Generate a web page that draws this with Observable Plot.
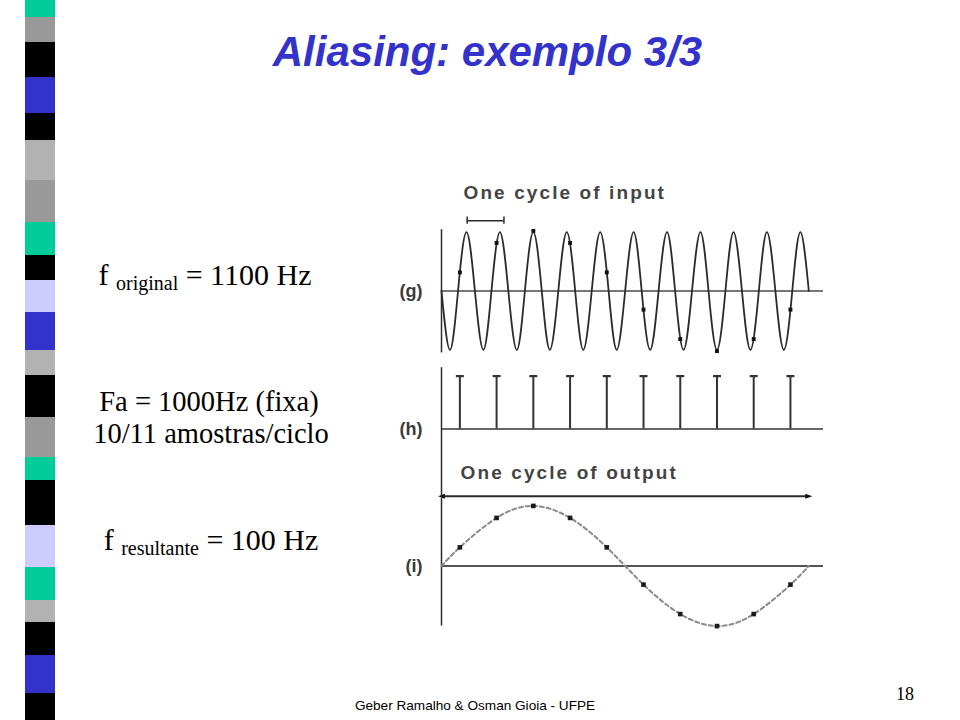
<!DOCTYPE html>
<html>
<head>
<meta charset="utf-8">
<script src="https://cdn.jsdelivr.net/npm/d3@7"></script>
<script src="https://cdn.jsdelivr.net/npm/@observablehq/plot@0.6"></script>
<style>
  html, body { margin: 0; padding: 0; background: #fff; }
  #slide { position: relative; width: 960px; height: 720px; overflow: hidden; background: #fff; }
  .abs { position: absolute; }
  .serif { font-family: "Liberation Serif", "Times New Roman", serif; color: #000; }
  .serif sub { font-size: 20px; vertical-align: -5px; line-height: 0; }
  svg { overflow: visible; }
</style>
</head>
<body>
<div id="slide">
  <div id="stripe" class="abs" style="left:25px; top:0px;"></div>
  <div class="abs" style="left:0; width:975px; top:31px; text-align:center; font: italic bold 42px 'Liberation Sans', Arial, sans-serif; line-height:42px; color:#3333cc;">Aliasing: exemplo 3/3</div>
  <div class="abs serif" style="left:0; width:410px; top:260px; text-align:center; font-size:30px; line-height:30px;">f <sub>original</sub> = 1100 Hz</div>
  <div class="abs serif" style="left:0; width:418px; top:388px; text-align:center; font-size:28.5px; line-height:28.5px;">Fa = 1000Hz (fixa)</div>
  <div class="abs serif" style="left:0; width:422px; top:420px; text-align:center; font-size:28.5px; line-height:28.5px;">10/11 amostras/ciclo</div>
  <div class="abs serif" style="left:0; width:422px; top:525px; text-align:center; font-size:30px; line-height:30px;">f <sub>resultante</sub> = 100 Hz</div>
  <div id="panelG" class="abs" style="left:370px; top:170px;"></div>
  <div id="panelH" class="abs" style="left:370px; top:360px;"></div>
  <div id="panelI" class="abs" style="left:370px; top:497px;"></div>
  <div class="abs" style="left:0; width:950px; top:699px; text-align:center; font: 13.6px 'Liberation Sans', Arial, sans-serif; line-height:14px; color:#000;">Geber Ramalho &amp; Osman Gioia - UFPE</div>
  <div class="abs serif" style="left:896px; top:685px; font-size:18px; line-height:18px;">18</div>
</div>
<script>
// ---- Data ----
// Left decorative stripe: segment boundaries (px of slide height) and colours
const stripeStart = [0, 17, 42, 77, 113, 140, 180, 222, 255, 280, 312, 350, 375, 417, 457, 480, 525, 567, 600, 622, 655, 693];
const stripeColor = ["#00cc99", "#999999", "#000000", "#3333cc", "#000000", "#b2b2b2", "#999999", "#00cc99", "#000000", "#ccccff", "#3333cc",
                     "#b2b2b2", "#000000", "#999999", "#00cc99", "#000000", "#ccccff", "#00cc99", "#b2b2b2", "#000000", "#3333cc", "#000000"];

// (g) input wave, 1100 Hz: zero crossings, troughs and peaks (time in ms, relative amplitude)
const inputTime = [0, 0.23, 0.45, 0.68, 0.91, 1.14, 1.36, 1.59, 1.82, 2.05, 2.27, 2.50, 2.73, 2.95, 3.18, 3.41,
                   3.64, 3.86, 4.09, 4.32, 4.55, 4.77, 5.00, 5.23, 5.45, 5.68, 5.91, 6.14, 6.36, 6.59, 6.82, 7.05,
                   7.27, 7.50, 7.73, 7.95, 8.18, 8.41, 8.64, 8.86, 9.09, 9.32, 9.55, 9.77, 10.0];
const inputValue = [0, -0.98, 0, 0.98, 0, -0.98, 0, 0.98, 0, -0.98, 0, 0.98, 0, -0.98, 0, 0.98,
                    0, -0.98, 0, 0.98, 0, -0.98, 0, 0.98, 0, -0.98, 0, 0.98, 0, -0.98, 0, 0.98,
                    0, -0.98, 0, 0.98, 0, -0.98, 0, 0.98, 0, -0.98, 0, 0.98, 0];

// (h) sampling instants at 1000 Hz (ms) and stem height
const sampleTime = [0.5, 1.5, 2.5, 3.5, 4.5, 5.5, 6.5, 7.5, 8.5, 9.5];
const stemHeight = [0.88, 0.88, 0.88, 0.88, 0.88, 0.88, 0.88, 0.88, 0.88, 0.88];

// (i) sampled values -> resulting 100 Hz wave
const sampleValue = [0.31, 0.80, 1.0, 0.80, 0.31, -0.31, -0.80, -1.0, -0.80, -0.31];
const outputStart = [0, 0];   // [time, value]
const outputEnd = [10, 0];

// annotation texts
const panelLabels = ["(g)", "(h)", "(i)"];
const inputCycle = [0.7, 1.7];      // bracket "One cycle of input" (ms)
const outputCycle = [0, 10];        // arrow "One cycle of output" (ms)
const annotations = ["One cycle of input", "One cycle of output"];

// ---- Tables ----
const inputData = inputTime.map((t, i) => ({t, v: inputValue[i]}));
const samples = sampleTime.map((t, i) => ({t, v: sampleValue[i], h: stemHeight[i]}));
const outputData = [{t: outputStart[0], v: outputStart[1]}, ...samples.map(d => ({t: d.t, v: d.v})), {t: outputEnd[0], v: outputEnd[1]}];
const stripe = stripeStart.map((y, i) => ({y1: y, y2: i + 1 < stripeStart.length ? stripeStart[i + 1] : 720, c: stripeColor[i]}));

// ---- custom symbols (style only) ----
const hbar = {draw(ctx, size) { const r = Math.sqrt(size / Math.PI); ctx.moveTo(-r, 0); ctx.lineTo(r, 0); }};
const triLeft = {draw(ctx, size) { const r = Math.sqrt(size / Math.PI); ctx.moveTo(-r, 0); ctx.lineTo(r, -r * 0.7); ctx.lineTo(r, r * 0.7); ctx.closePath(); }};
const triRight = {draw(ctx, size) { const r = Math.sqrt(size / Math.PI); ctx.moveTo(r, 0); ctx.lineTo(-r, -r * 0.7); ctx.lineTo(-r, r * 0.7); ctx.closePath(); }};

// ---- Stripe ----
document.getElementById("stripe").append(Plot.plot({
  width: 30, height: 720, margin: 0,
  x: {domain: [0, 1], axis: null},
  y: {domain: [0, 720], range: [0, 720], axis: null},
  color: {type: "identity"},
  marks: [Plot.rect(stripe, {x1: () => 0, x2: () => 1, y1: "y1", y2: "y2", fill: "c"})]
}));

const common = {
  width: 470, marginLeft: 71, marginRight: 17,
  x: {domain: [0, 10.4], axis: null},
  y: {domain: [-1.14, 1.14], axis: null},
  style: {overflow: "visible", background: "transparent", fontFamily: "'Liberation Sans', Arial, sans-serif", fontSize: "16px"}
};
const ink = "#2b2b2b";
const labelMark = (s) => Plot.text([s], {text: d => d, frameAnchor: "left", dx: -19, textAnchor: "end", fontWeight: "bold", fontSize: 18, fill: "#3a3a3a"});

// ---- (g) input ----
const g = Plot.plot({
  ...common, height: 190, marginTop: 52, marginBottom: 1,
  marks: [
    Plot.ruleY([0], {stroke: "#777", strokeWidth: 2}),
    Plot.ruleX([0], {y1: -1.03, y2: 1.02, stroke: ink, strokeWidth: 1.5}),
    Plot.line(inputData, {x: "t", y: "v", curve: "natural", stroke: ink, strokeWidth: 1.8}),
    Plot.dot(samples, {x: "t", y: "v", r: 2.2, symbol: "square", fill: "#111"}),
    Plot.ruleY([1.17], {x1: inputCycle[0], x2: inputCycle[1], stroke: ink, strokeWidth: 1.5}),
    Plot.ruleX(inputCycle, {x: d => d, y1: 1.11, y2: 1.23, stroke: ink, strokeWidth: 1.5}),
    Plot.text([annotations[0]], {text: d => d, x: 0.6, y: 1.63, textAnchor: "start", fontSize: 19, fontWeight: "bold", fill: "#444"}),
    labelMark(panelLabels[0])
  ]
});
document.getElementById("panelG").append(g);

// ---- (h) sampling ----
const h = Plot.plot({
  ...common, height: 137, marginTop: 0, marginBottom: 0,
  marks: [
    Plot.ruleY([0], {stroke: "#666", strokeWidth: 2}),
    Plot.ruleX([0], {y1: -1.14, y2: 1.02, stroke: ink, strokeWidth: 1.5}),
    Plot.ruleX(samples, {x: "t", y1: () => 0, y2: "h", stroke: "#333", strokeWidth: 2}),
    Plot.dot(samples, {x: "t", y: "h", r: 4, symbol: hbar, fill: "none", stroke: "#333", strokeWidth: 2.2}),
    Plot.ruleY([-1.12], {x1: outputCycle[0], x2: outputCycle[1], stroke: ink, strokeWidth: 2}),
    Plot.dot([outputCycle[0]], {x: d => d, y: () => -1.12, r: 3.5, symbol: triLeft, fill: "#111", stroke: "none"}),
    Plot.dot([outputCycle[1]], {x: d => d, y: () => -1.12, r: 3.5, symbol: triRight, fill: "#111", stroke: "none"}),
    Plot.text([annotations[1]], {text: d => d, x: 0.52, y: -0.73, textAnchor: "start", fontSize: 19, fontWeight: "bold", fill: "#444"}),
    labelMark(panelLabels[1])
  ]
});
document.getElementById("panelH").append(h);

// ---- (i) output ----
const iPlot = Plot.plot({
  ...common, height: 137, marginTop: 0, marginBottom: 0,
  marks: [
    Plot.ruleY([0], {stroke: "#555", strokeWidth: 2}),
    Plot.ruleX([0], {y1: -1.0, y2: 1.13, stroke: ink, strokeWidth: 1.5}),
    Plot.line(outputData, {x: "t", y: "v", curve: "natural", stroke: "#8a8a8a", strokeWidth: 2, strokeDasharray: "4,3"}),
    Plot.dot(samples, {x: "t", y: "v", r: 2.6, symbol: "square", fill: "#1a1a1a"}),
    labelMark(panelLabels[2])
  ]
});
document.getElementById("panelI").append(iPlot);

// letter spacing for the wide annotation font
d3.selectAll("#slide svg text").filter(function () { return this.textContent.startsWith("One cycle"); })
  .style("letter-spacing", "2.1px");
</script>
</body>
</html>
